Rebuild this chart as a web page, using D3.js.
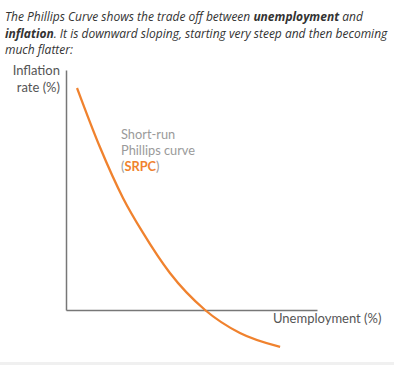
<!DOCTYPE html>
<html><head><meta charset="utf-8">
<script src="https://cdn.jsdelivr.net/npm/d3@7"></script>
<style>body{margin:0;background:#fff;}svg{display:block;}</style>
</head><body>
<script>
const titleLines = [
  [["The Phillips Curve shows the trade off between ", false], ["unemployment", true], [" and", false]],
  [["inflation", true], [". It is downward sloping, starting very steep and then becoming", false]],
  [["much flatter:", false]]
];
const yLabel = ["Inflation", "rate (%)"];
const xLabel = "Unemployment (%)";
const curveLabel = ["Short-run", "Phillips curve"];
const curveTag = "SRPC";
const unemployment = [0.44, 1.35, 2.27, 3.07, 4.14, 5.54, 6.93, 8.53];
const inflation = [9.25, 6.79, 4.67, 3.21, 1.54, 0, -0.96, -1.54];

const W = 394, H = 365;
const svg = d3.select("body").append("svg").attr("width", W).attr("height", H);
const x = d3.scaleLinear().domain([0, 10]).range([66, 317]);
const y = d3.scaleLinear().domain([0, 10]).range([310, 70]);

const t = svg.append("text").attr("font-family", "Open Sans").attr("font-style", "italic")
  .attr("font-size", 12).attr("fill", "#333");
titleLines.forEach((ln, i) => {
  const tl = t.append("tspan").attr("x", 5).attr("y", 21 + i * 16.5);
  ln.forEach(([s, b]) => {
    const ts = tl.append("tspan").text(s);
    if (b) ts.attr("font-weight", "bold");
  });
});

svg.append("rect").attr("x", 0).attr("y", 362).attr("width", W).attr("height", 3).attr("fill", "#f0f0f0");

const g = svg.append("g");
g.append("g").attr("transform", `translate(0,${y(0)})`)
  .call(d3.axisBottom(x).ticks(0).tickSize(0).tickSizeOuter(0))
  .call(s => s.select(".domain").attr("stroke", "#777").attr("stroke-width", 1.5));
g.append("g").attr("transform", `translate(${x(0)},0)`)
  .call(d3.axisLeft(y).ticks(0).tickSize(0).tickSizeOuter(0))
  .call(s => s.select(".domain").attr("stroke", "#777").attr("stroke-width", 1.5));

const pts = unemployment.map((u, i) => [u, inflation[i]]);
g.append("path").datum(pts)
  .attr("d", d3.line().x(d => x(d[0])).y(d => y(d[1])).curve(d3.curveMonotoneX))
  .attr("fill", "none").attr("stroke", "#f0822e").attr("stroke-width", 2.3).attr("stroke-linecap", "butt");

const lf = "Lato";
svg.append("text").attr("font-family", lf).attr("font-size", 13).attr("fill", "#555")
  .attr("text-anchor", "end")
  .selectAll("tspan").data(yLabel).join("tspan")
  .attr("x", 60).attr("y", (d, i) => 75 + i * 17).text(d => d);

svg.append("text").attr("font-family", lf).attr("font-size", 13).attr("fill", "#555")
  .attr("x", 273).attr("y", 323).text(xLabel);

const cl = svg.append("text").attr("font-family", lf).attr("font-size", 12.8).attr("fill", "#9a9a9a");
curveLabel.forEach((s, i) => cl.append("tspan").attr("x", 121).attr("y", 139 + i * 16).text(s));
const last = cl.append("tspan").attr("x", 121).attr("y", 171);
last.append("tspan").text("(");
last.append("tspan").attr("fill", "#f0822e").attr("font-weight", "bold").text(curveTag);
last.append("tspan").text(")");
</script>
</body></html>
